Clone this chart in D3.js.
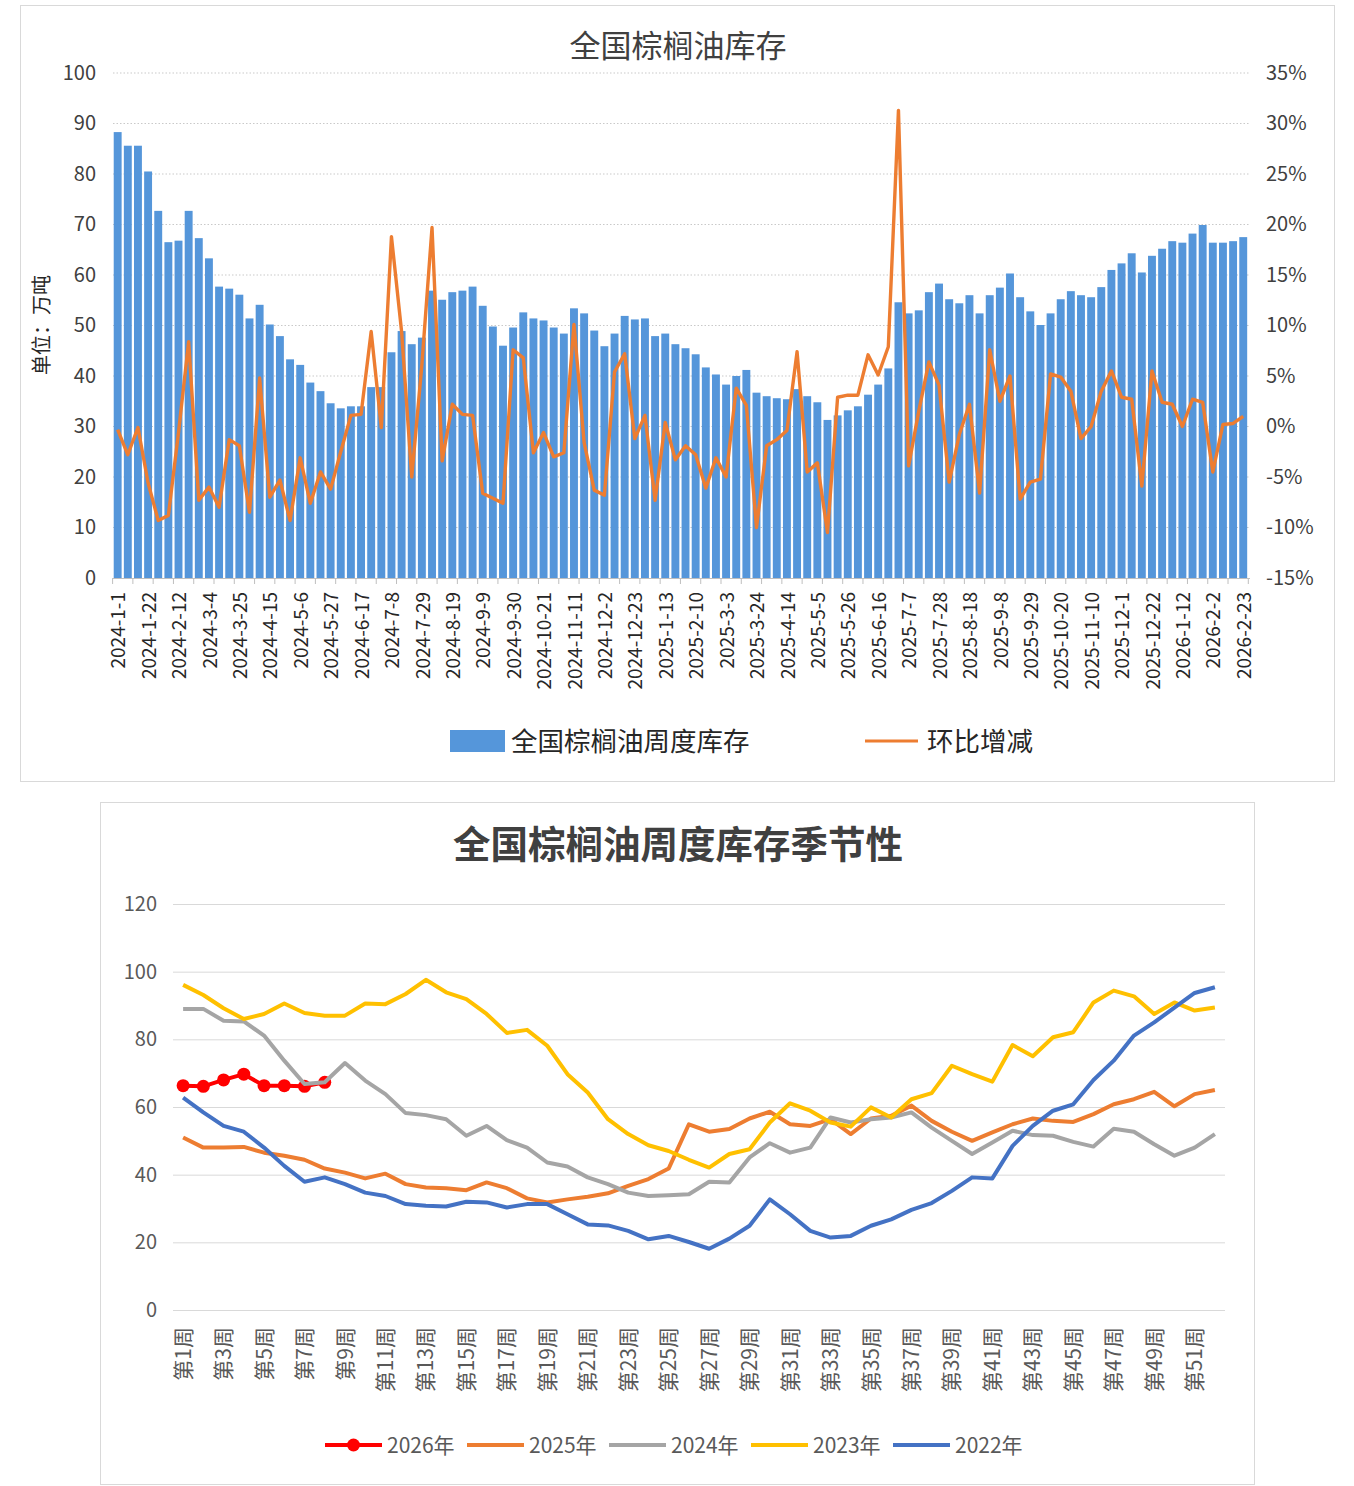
<!DOCTYPE html>
<html>
<head>
<meta charset="utf-8">
<script src="https://cdn.jsdelivr.net/npm/d3@7"></script>
<style>
  body { margin: 0; background: #fff; }
</style>
</head>
<body>
<div id="chart"></div>
<script>
// ---- data: top chart (weekly stock, 万吨, and week-on-week change, %) ----
const stock = [
  88.3, 85.6, 85.6, 80.5, 72.7, 66.5, 66.8, 72.7, 67.3, 63.3, 57.7, 57.3, 56.1, 51.4, 54.1, 50.2, 47.9, 43.3, 42.2, 38.7, 37.0, 34.6, 33.6,
  34.0, 34.0, 37.8, 37.8, 44.7, 48.9, 46.3, 47.6, 56.9, 55.1, 56.6, 56.9, 57.7, 53.9, 49.8, 46.0, 49.6, 52.6, 51.4, 51.0, 49.6, 48.4, 53.4, 52.4, 49.0, 45.9, 48.4, 51.9, 51.2,
  51.4, 47.9, 48.4, 46.3, 45.5, 44.3, 41.7, 40.3, 38.3, 40.0, 41.2, 36.7, 36.0, 35.6, 35.4, 37.4, 36.0, 34.8, 31.3, 32.2, 33.2, 34.0, 36.3, 38.3, 41.5, 54.6, 52.4, 53.0, 56.6, 58.3,
  55.2, 54.4, 56.0, 52.4, 56.0, 57.5, 60.3, 55.6, 52.8, 50.1, 52.4, 55.2, 56.8, 56.0, 55.6, 57.6, 61.0, 62.3, 64.3, 60.5, 63.8, 65.2, 66.7, 66.4, 68.2, 69.9, 66.4, 66.4, 66.7, 67.5
];
const change = [
  -0.3, -2.8, -0.1, -5.6, -9.3, -8.8, -0.6, 8.4, -7.3, -6.0, -8.0, -1.3, -1.9, -8.5, 4.8, -7.0, -5.3, -9.3, -3.1, -7.6, -4.5, -6.2, -2.5,
  1.1, 1.2, 9.4, -0.1, 18.8, 9.4, -5.0, 6.1, 19.7, -3.4, 2.2, 1.2, 1.1, -6.6, -7.1, -7.6, 7.6, 6.8, -2.6, -0.6, -3.0, -2.6, 10.1, -1.6, -6.3, -6.8, 5.4, 7.2, -1.2,
  1.1, -7.3, 0.4, -3.3, -1.9, -2.8, -6.1, -3.1, -5.0, 3.8, 2.1, -10.0, -1.9, -1.3, -0.4, 7.4, -4.5, -3.6, -10.5, 2.9, 3.1, 3.1, 7.1, 5.1, 7.9, 31.3, -3.9, 1.5, 6.4, 4.1,
  -5.5, -0.8, 2.2, -6.6, 7.6, 2.5, 5.0, -7.2, -5.5, -5.2, 5.2, 4.9, 3.5, -1.2, 0.0, 3.5, 5.5, 2.9, 2.7, -5.9, 5.5, 2.4, 2.2, 0.0, 2.7, 2.4, -4.5, 0.2, 0.3, 1.0
];
// weekly dates 2024-1-1 .. 2026-2-23, one holiday week missing in the source
const skipWeek = '2025-2-3';
const fmtDate = d => d.getFullYear() + '-' + (d.getMonth() + 1) + '-' + d.getDate();
const dates = d3.timeMonday.range(new Date(2024, 0, 1), new Date(2026, 1, 24))
  .map(fmtDate).filter(s => s !== skipWeek);

const leftTicks = [0, 10, 20, 30, 40, 50, 60, 70, 80, 90, 100];
const rightTicks = [-15, -10, -5, 0, 5, 10, 15, 20, 25, 30, 35];

// ---- data: seasonal chart ----
const weeks = d3.range(1, 53);
const weekLabels = weeks.map(w => '第' + w + '周');
const s2026 = [66.3, 66.1, 68.0, 69.7, 66.3, 66.3, 66.1, 67.3];
const s2025 = [
  51.0, 48.0, 48.0, 48.2, 46.5, 45.6, 44.4, 41.8, 40.6, 38.9, 40.3, 37.2, 36.2, 36.0, 35.4, 37.7, 36.0,
  33.0, 31.8, 32.7, 33.5, 34.5, 36.7, 38.7, 41.8, 54.9, 52.7, 53.5, 56.6, 58.6, 54.9, 54.4, 56.4, 52.0,
  56.6, 57.4, 60.4, 55.9, 52.7, 50.0, 52.5, 54.9, 56.6, 55.9, 55.6, 57.9, 60.8, 62.3, 64.5, 60.2, 63.8, 65.0
];
const s2024 = [
  89.0, 89.0, 85.5, 85.3, 81.1, 73.7, 66.8, 67.3, 73.0, 67.8, 63.8, 58.2, 57.6, 56.4, 51.5, 54.4, 50.2,
  48.0, 43.6, 42.4, 39.2, 37.2, 34.7, 33.7, 33.9, 34.2, 37.9, 37.7, 45.1, 49.3, 46.5, 48.0, 56.9, 55.4,
  56.4, 56.9, 58.4, 53.9, 50.0, 46.1, 49.5, 53.0, 51.7, 51.5, 49.7, 48.3, 53.6, 52.7, 49.0, 45.6, 48.0, 52.0
];
const s2023 = [
  96.1, 93.1, 89.2, 86.0, 87.5, 90.6, 87.8, 87.0, 87.0, 90.6, 90.4, 93.4, 97.6, 93.9, 91.9, 87.5, 81.9,
  82.8, 78.1, 69.7, 64.3, 56.4, 52.0, 48.7, 47.0, 44.4, 42.1, 46.1, 47.5, 55.4, 61.1, 58.9, 55.4, 54.2,
  59.9, 56.9, 62.3, 64.1, 72.2, 69.7, 67.5, 78.3, 75.0, 80.6, 82.1, 90.9, 94.4, 92.7, 87.5, 90.9, 88.5, 89.4
];
const s2022 = [
  62.8, 58.4, 54.4, 52.7, 48.0, 42.6, 37.9, 39.2, 37.2, 34.7, 33.7, 31.3, 30.8, 30.6, 32.0, 31.8, 30.3,
  31.3, 31.3, 28.3, 25.3, 25.0, 23.4, 20.9, 21.9, 20.1, 18.1, 21.1, 24.9, 32.7, 28.3, 23.4, 21.4, 21.9,
  24.9, 26.8, 29.6, 31.6, 35.2, 39.2, 38.9, 48.5, 54.4, 58.9, 60.8, 68.0, 73.7, 81.1, 85.0, 89.4, 93.7, 95.4
];
const seasonNames = ['2026年', '2025年', '2024年', '2023年', '2022年'];
const seasonColors = ['#ff0000', '#ed7d31', '#a5a5a5', '#ffc000', '#4472c4'];
const seasonSeries = [s2026, s2025, s2024, s2023, s2022];
const seasonTicks = [0, 20, 40, 60, 80, 100, 120];

const FONT = '"Microsoft YaHei","Noto Sans CJK SC",sans-serif';

const svg = d3.select('#chart').append('svg')
  .attr('width', 1354)
  .attr('height', 1486)
  .style('font-family', FONT);

// =================== top chart ===================
svg.append('rect')
  .attr('x', 20.5).attr('y', 5.5).attr('width', 1314).attr('height', 776)
  .attr('fill', '#fff').attr('stroke', '#d9d9d9');

svg.append('text')
  .attr('x', 678).attr('y', 57)
  .attr('text-anchor', 'middle')
  .attr('font-size', '31px')
  .attr('fill', '#404040')
  .text('全国棕榈油库存');

const xBar = d3.scaleBand()
  .domain(d3.range(stock.length))
  .range([112.6, 1248.3])
  .paddingInner(0.22)
  .paddingOuter(0.11);
const yLeft = d3.scaleLinear().domain([0, 100]).range([578, 73]);
const yRight = d3.scaleLinear().domain([-15, 35]).range([578, 73]);
const barCenter = i => xBar(i) + xBar.bandwidth() / 2;

// dotted gridlines
svg.append('g')
  .selectAll('line')
  .data(leftTicks.slice(1))
  .enter()
  .append('line')
  .attr('x1', 113).attr('x2', 1250)
  .attr('y1', d => yLeft(d)).attr('y2', d => yLeft(d))
  .attr('stroke', '#c9c9c9')
  .attr('stroke-dasharray', '1.5,2');

// bars
svg.append('g')
  .selectAll('rect')
  .data(stock)
  .enter()
  .append('rect')
  .attr('x', (d, i) => xBar(i))
  .attr('y', d => yLeft(d))
  .attr('width', xBar.bandwidth())
  .attr('height', d => yLeft(0) - yLeft(d))
  .attr('fill', '#5596da');

// baseline + small ticks every two weeks
svg.append('line')
  .attr('x1', 113).attr('x2', 1250)
  .attr('y1', 578.5).attr('y2', 578.5)
  .attr('stroke', '#bfbfbf');
svg.append('g')
  .selectAll('line')
  .data(d3.range(0, stock.length + 1, 2))
  .enter()
  .append('line')
  .attr('x1', d => 112.6 + d * xBar.step()).attr('x2', d => 112.6 + d * xBar.step())
  .attr('y1', 578).attr('y2', 584)
  .attr('stroke', '#bfbfbf');

// week-on-week line
const changeLine = d3.line()
  .x((d, i) => barCenter(i))
  .y(d => yRight(d));
svg.append('path')
  .datum(change)
  .attr('d', changeLine)
  .attr('fill', 'none')
  .attr('stroke', '#ed7d31')
  .attr('stroke-width', 3.4)
  .attr('stroke-linejoin', 'round');

// axes
const leftAxis = svg.append('g')
  .attr('transform', 'translate(113,0)')
  .call(d3.axisLeft(yLeft).tickValues(leftTicks).tickSize(0).tickPadding(17));
const rightAxis = svg.append('g')
  .attr('transform', 'translate(1250,0)')
  .call(d3.axisRight(yRight).tickValues(rightTicks).tickSize(0).tickPadding(16).tickFormat(d => d + '%'));
[leftAxis, rightAxis].forEach(g => {
  g.select('.domain').remove();
  g.selectAll('text').attr('font-size', '20px').attr('fill', '#404040').style('font-family', FONT);
});

// date labels, every third week
svg.append('g')
  .selectAll('text')
  .data(dates.map((d, i) => [d, i]).filter(d => d[1] % 3 === 0))
  .enter()
  .append('text')
  .attr('transform', d => `translate(${barCenter(d[1]) + 1}, 592) rotate(-90)`)
  .attr('text-anchor', 'end')
  .attr('dy', '0.35em')
  .attr('font-size', '19px')
  .attr('fill', '#262626')
  .text(d => d[0]);

// y axis title
svg.append('text')
  .attr('transform', 'translate(42, 325) rotate(-90)')
  .attr('text-anchor', 'middle')
  .attr('dy', '0.35em')
  .attr('font-size', '20px')
  .attr('fill', '#262626')
  .text('单位：万吨');

// legend
svg.append('rect')
  .attr('x', 450).attr('y', 730).attr('width', 55).attr('height', 22)
  .attr('fill', '#5596da');
svg.append('text')
  .attr('x', 511).attr('y', 741).attr('dy', '0.36em')
  .attr('font-size', '26.5px').attr('fill', '#262626')
  .text('全国棕榈油周度库存');
svg.append('line')
  .attr('x1', 865).attr('x2', 918).attr('y1', 741).attr('y2', 741)
  .attr('stroke', '#ed7d31').attr('stroke-width', 3);
svg.append('text')
  .attr('x', 927).attr('y', 741).attr('dy', '0.36em')
  .attr('font-size', '26.5px').attr('fill', '#262626')
  .text('环比增减');

// =================== seasonal chart ===================
svg.append('rect')
  .attr('x', 100.5).attr('y', 802.5).attr('width', 1154).attr('height', 682)
  .attr('fill', '#fff').attr('stroke', '#d9d9d9');

svg.append('text')
  .attr('x', 678).attr('y', 858)
  .attr('text-anchor', 'middle')
  .attr('font-size', '37.5px')
  .attr('font-weight', 'bold')
  .attr('fill', '#404040')
  .text('全国棕榈油周度库存季节性');

const xWeek = d3.scaleBand().domain(weeks).range([173, 1225]);
const ySeason = d3.scaleLinear().domain([0, 120]).range([1310, 904]);
const weekCenter = w => xWeek(w) + xWeek.bandwidth() / 2;

svg.append('g')
  .selectAll('line')
  .data(seasonTicks)
  .enter()
  .append('line')
  .attr('x1', 173).attr('x2', 1225)
  .attr('y1', d => ySeason(d) + 0.5).attr('y2', d => ySeason(d) + 0.5)
  .attr('stroke', '#d9d9d9');

const seasonAxis = svg.append('g')
  .attr('transform', 'translate(173,0)')
  .call(d3.axisLeft(ySeason).tickValues(seasonTicks).tickSize(0).tickPadding(16));
seasonAxis.select('.domain').remove();
seasonAxis.selectAll('text').attr('font-size', '20px').attr('fill', '#595959').style('font-family', FONT);

const weekAxis = svg.append('g')
  .attr('transform', 'translate(0,1310)')
  .call(d3.axisBottom(xWeek).tickValues(weeks.filter(w => w % 2 === 1)).tickSize(0).tickFormat(w => weekLabels[w - 1]));
weekAxis.select('.domain').remove();
weekAxis.selectAll('text')
  .attr('transform', 'rotate(-90)')
  .attr('text-anchor', 'end')
  .attr('x', -17).attr('y', 0).attr('dy', '0.36em')
  .attr('font-size', '21px').attr('fill', '#595959')
  .style('font-family', FONT);

const seasonLine = d3.line()
  .x((d, i) => weekCenter(weeks[i]))
  .y(d => ySeason(d));

seasonSeries.forEach((s, k) => {
  svg.append('path')
    .datum(s)
    .attr('d', seasonLine)
    .attr('fill', 'none')
    .attr('stroke', seasonColors[k])
    .attr('stroke-width', 4)
    .attr('stroke-linejoin', 'round');
  if (k === 0) {
    svg.append('g')
      .selectAll('circle')
      .data(s)
      .enter()
      .append('circle')
      .attr('cx', (d, i) => weekCenter(weeks[i]))
      .attr('cy', d => ySeason(d))
      .attr('r', 6.5)
      .attr('fill', seasonColors[0]);
  }
});

// legend
const legendX = [325, 467, 609, 751, 893];
seasonNames.forEach((name, k) => {
  const g = svg.append('g').attr('transform', `translate(${legendX[k]},1445)`);
  g.append('line')
    .attr('x1', 0).attr('x2', 57)
    .attr('stroke', seasonColors[k]).attr('stroke-width', 4);
  if (k === 0) g.append('circle').attr('cx', 28.5).attr('r', 6.5).attr('fill', seasonColors[0]);
  g.append('text')
    .attr('x', 62).attr('dy', '0.36em')
    .attr('font-size', '21px').attr('fill', '#595959')
    .text(name);
});
</script>
</body>
</html>
